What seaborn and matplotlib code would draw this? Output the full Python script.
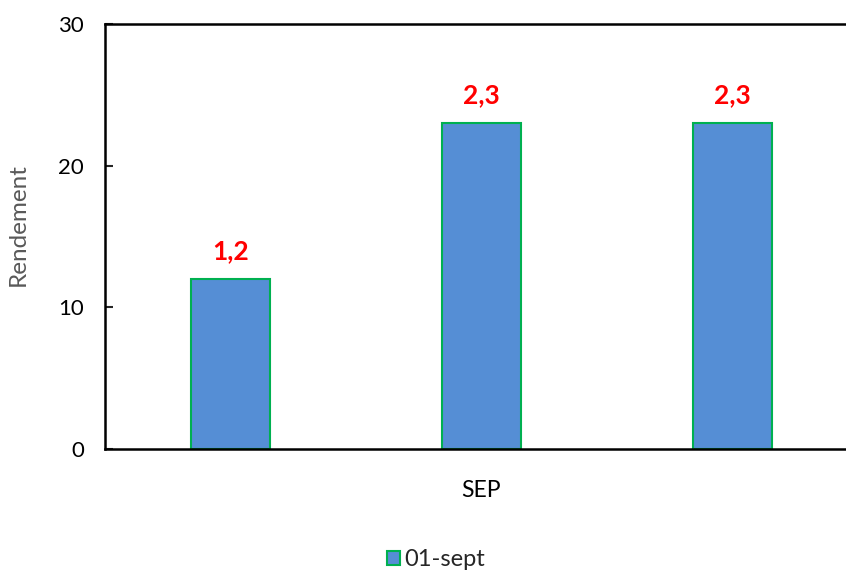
import matplotlib
matplotlib.use("Agg")
import matplotlib.pyplot as plt
from matplotlib.patches import Patch
import seaborn as sns
import pandas as pd

# Yield values for the three plots of the September sampling
positions = ["P1", "P2", "P3"]
rendement = [12, 23, 23]
series_name = "01-sept"
group_label = "SEP"
y_ticks = [0, 10, 20, 30]

sns.set_theme(style="white")
plt.rcParams["font.family"] = ["Lato", "DejaVu Sans"]

df = pd.DataFrame({"pos": positions, "rendement": rendement})

fig = plt.figure(figsize=(8.46, 5.71), dpi=100)
ax = fig.add_axes([105 / 846, 122 / 571, 753 / 846, 425 / 571])

fill = "#558ED5"
edge = "#00B050"
sns.barplot(data=df, x="pos", y="rendement", color=fill, width=0.315,
            edgecolor=edge, linewidth=1.5, saturation=1, ax=ax)

# Value labels (tenths, French decimal comma)
for bar, v in zip(ax.patches, rendement):
    ax.text(bar.get_x() + bar.get_width() / 2, v + 1.15,
            f"{v / 10:.1f}".replace(".", ","), ha="center", va="bottom",
            color="#FF0000", fontsize=19, fontweight="bold")

ax.set_xlim(-0.5, 2.5)
ax.set_ylim(0, 30)
ax.set_yticks(y_ticks)
ax.set_yticklabels([str(t) for t in y_ticks], fontsize=16, color="black")
ax.tick_params(axis="y", direction="in", length=6, width=1.5, pad=15, left=True)
ax.set_xticks([])
ax.set_xlabel(group_label, fontsize=16.5, color="black", labelpad=22)
ax.set_ylabel("Rendement", fontsize=17.5, color="#595959")
ax.yaxis.set_label_coords(-0.101, 0.527)

for side in ["left", "bottom", "top"]:
    ax.spines[side].set_visible(True)
    ax.spines[side].set_color("black")
    ax.spines[side].set_linewidth(1.8)
ax.spines["right"].set_visible(False)

handle = Patch(facecolor=fill, edgecolor=edge, linewidth=1.5)
fig.legend([handle], [series_name], loc="center", bbox_to_anchor=(436 / 846, 1 - 560 / 571),
           frameon=False, fontsize=17, handlelength=0.55, handleheight=0.55, handletextpad=0.2)

fig.savefig("out.png", dpi=100)
